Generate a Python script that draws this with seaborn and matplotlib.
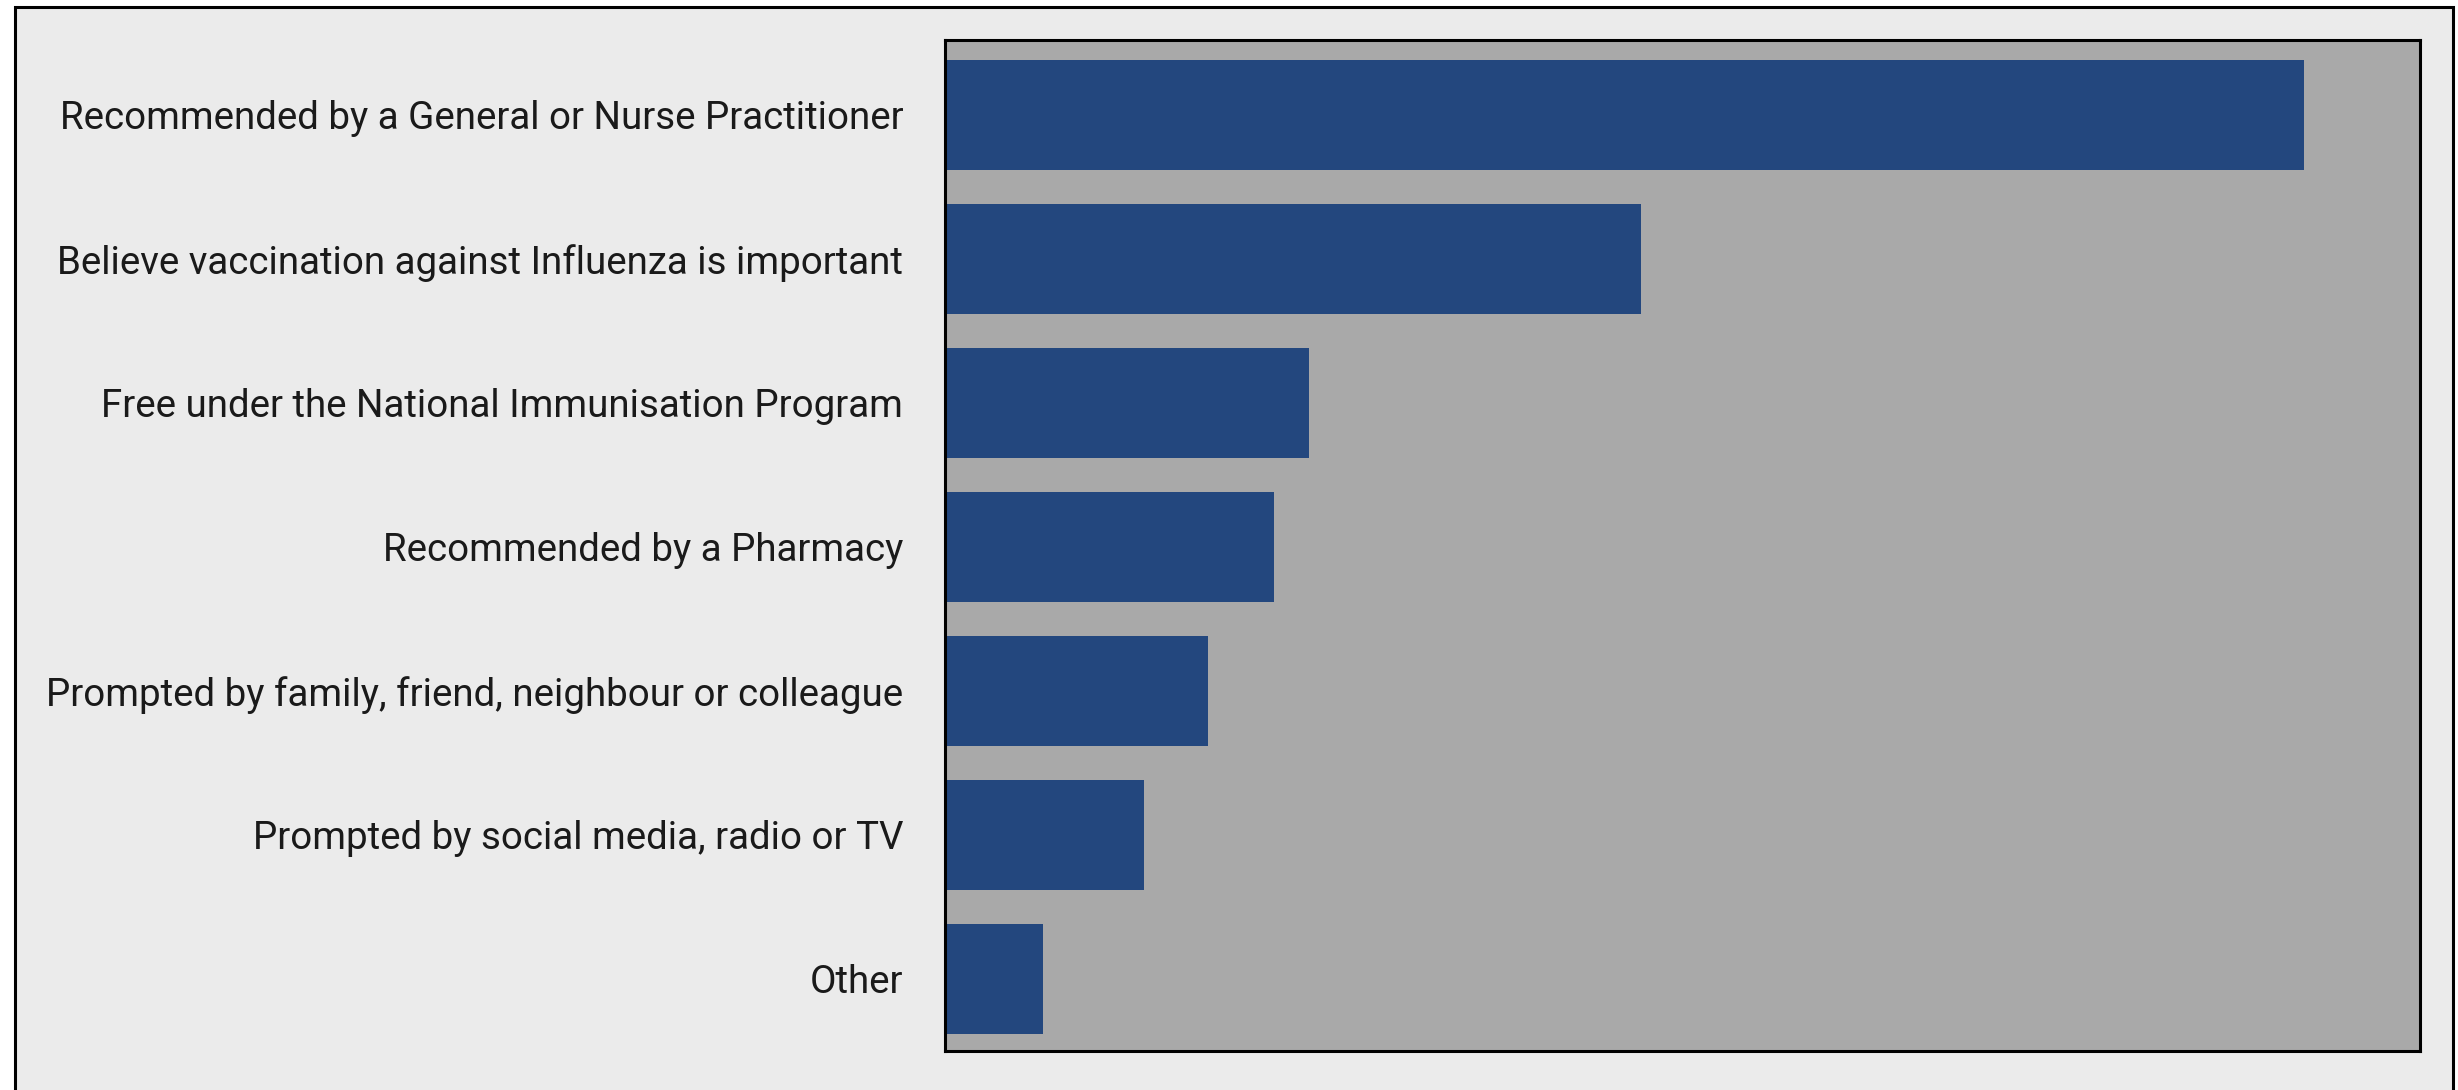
import pandas as pd
import matplotlib.pyplot as plt
import seaborn as sns
from matplotlib.patches import Rectangle

# Data
reasons = [
    "Recommended by a General or Nurse Practitioner",
    "Believe vaccination against Influenza is important",
    "Free under the National Immunisation Program",
    "Recommended by a Pharmacy",
    "Prompted by family, friend, neighbour or colleague",
    "Prompted by social media, radio or TV",
    "Other",
]
shares = [55.3, 28.3, 14.8, 13.4, 10.7, 8.1, 4.0]

df = pd.DataFrame({"Reason": reasons, "Share": shares})

sns.set_theme(style="white")
plt.rcParams['font.family'] = ['Roboto', 'DejaVu Sans']

fig = plt.figure(figsize=(24.58, 10.90), dpi=100)

# light grey panel with black frame (runs off the bottom edge)
fig.patches.append(Rectangle((15 / 2458, -0.05), (2453 - 15) / 2458, 1.05 - 7 / 1090,
                             transform=fig.transFigure, facecolor="#ebebeb",
                             edgecolor="black", linewidth=2.2, zorder=-5))

ax = fig.add_axes([945 / 2458, 1 - 1051 / 1090, (2420 - 945) / 2458, (1051 - 40) / 1090])
ax.set_facecolor("#a9a9a9")

sns.barplot(data=df, x="Share", y="Reason", orient="h", color="#23477e",
            width=0.765, saturation=1, linewidth=0, edgecolor="none", ax=ax)

ax.set_xlim(0, 60)
ax.set_ylim(6.5, -0.52)
ax.set_xlabel("")
ax.set_ylabel("")
ax.set_xticks([])
ax.tick_params(axis="y", length=0, pad=30, labelsize=27.7)
for lbl in ax.get_yticklabels():
    lbl.set_fontweight("normal")
    lbl.set_color("#1a1a1a")
for s in ax.spines.values():
    s.set_visible(True)
    s.set_color("black")
    s.set_linewidth(2.2)

fig.savefig("out.png", dpi=100, facecolor="white")
